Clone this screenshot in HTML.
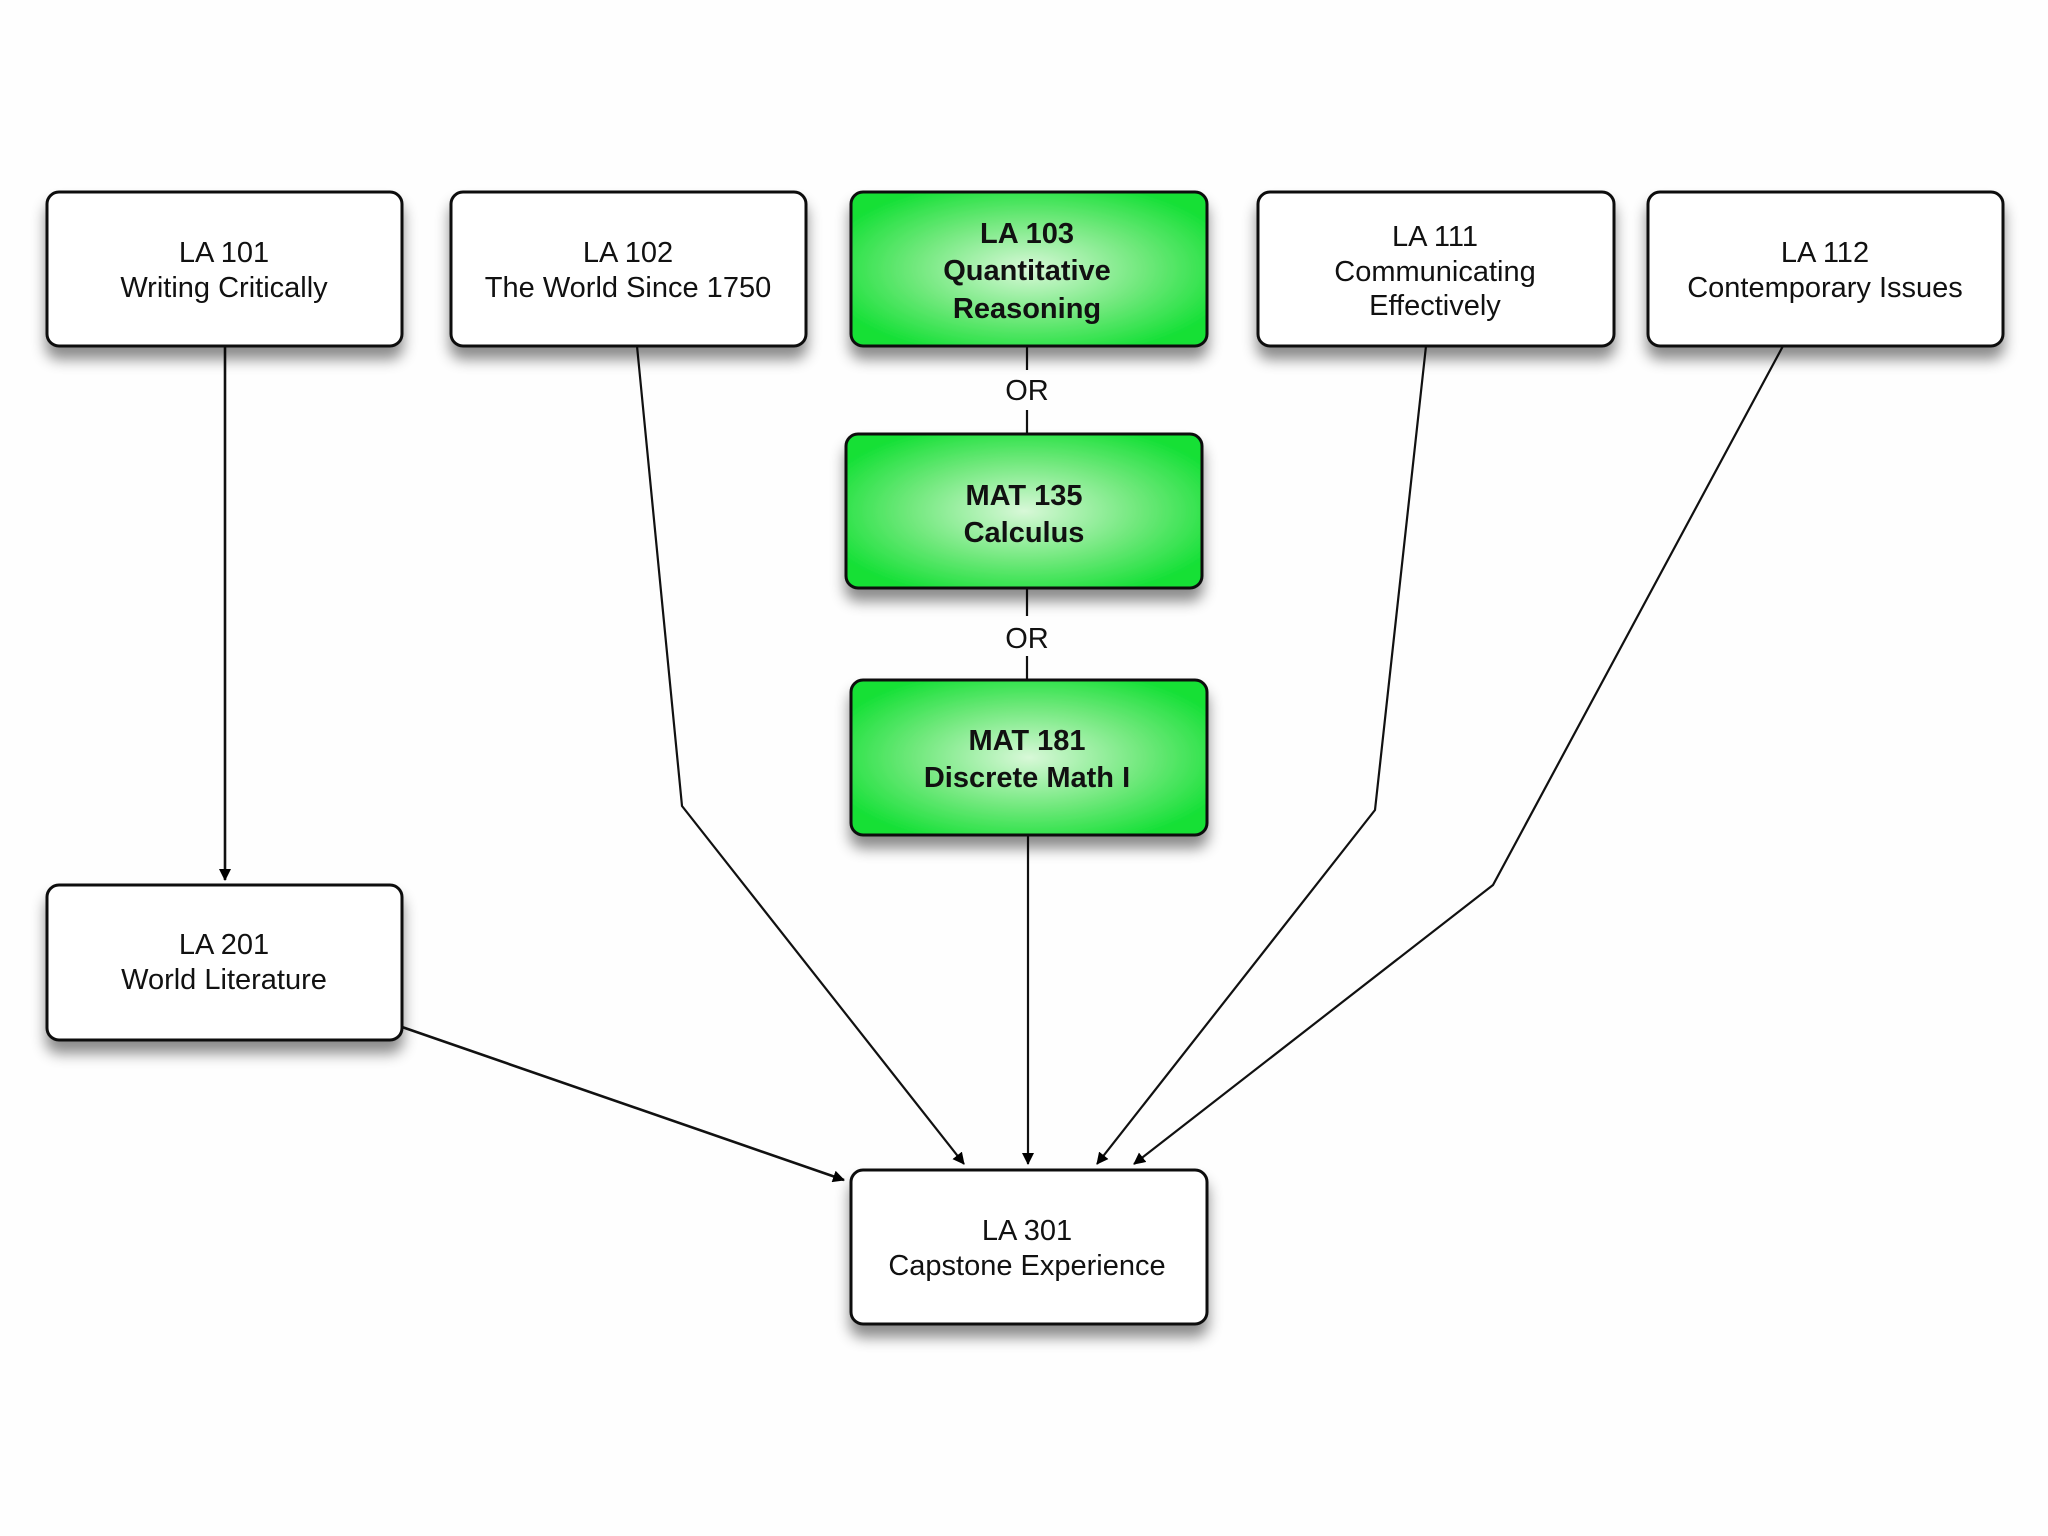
<!DOCTYPE html>
<html><head><meta charset="utf-8"><style>
html,body{margin:0;padding:0;background:#fefefe;}
svg{display:block}
text{font-family:"Liberation Sans",sans-serif;font-size:29px;fill:#111;text-anchor:middle}
.b{font-weight:bold}
</style></head><body>
<svg width="2048" height="1536" viewBox="0 0 2048 1536" xmlns="http://www.w3.org/2000/svg">
<defs>
<radialGradient id="g" cx="50%" cy="50%" r="60%">
<stop offset="0" stop-color="#d8f8d8"/><stop offset="0.55" stop-color="#6ee87a"/><stop offset="1" stop-color="#12e034"/>
</radialGradient>
<filter id="s" x="-10%" y="-10%" width="130%" height="150%"><feDropShadow dx="0" dy="12" stdDeviation="7" flood-color="#000" flood-opacity="0.45"/></filter>
<marker id="a" markerWidth="12" markerHeight="12" refX="11" refY="6" orient="auto" markerUnits="userSpaceOnUse" viewBox="0 0 12 12"><path d="M0,0 L12,6 L0,12 z" fill="#000"/></marker>
</defs>
<rect width="2048" height="1536" fill="#fefefe"/>
<g fill="none" stroke="#111" stroke-width="2.2">
<path d="M225,346 V880" marker-end="url(#a)" stroke-width="2.6"/>
<path d="M637,346 L682,806 L964,1164" marker-end="url(#a)"/>
<path d="M1028,835 V1164" marker-end="url(#a)"/>
<path d="M1426,346 L1375,810 L1097,1164" marker-end="url(#a)"/>
<path d="M1783,346 L1493,885 L1134,1164" marker-end="url(#a)"/>
<path d="M402,1027 L844,1180" marker-end="url(#a)" stroke-width="2.6"/>
<path d="M1027,346 V370 M1027,410 V434 M1027,588 V616 M1027,656 V680"/>
</g>
<text x="1027" y="400">OR</text>
<text x="1027" y="648">OR</text>
<g stroke="#111" stroke-width="3" filter="url(#s)">
<rect x="47" y="192" width="355" height="154" rx="12" fill="#fff"/>
<rect x="451" y="192" width="355" height="154" rx="12" fill="#fff"/>
<rect x="851" y="192" width="356" height="154" rx="12" fill="url(#g)"/>
<rect x="1258" y="192" width="356" height="154" rx="12" fill="#fff"/>
<rect x="1648" y="192" width="355" height="154" rx="12" fill="#fff"/>
<rect x="846" y="434" width="356" height="154" rx="12" fill="url(#g)"/>
<rect x="851" y="680" width="356" height="155" rx="12" fill="url(#g)"/>
<rect x="47" y="885" width="355" height="155" rx="12" fill="#fff"/>
<rect x="851" y="1170" width="356" height="154" rx="12" fill="#fff"/>
</g>
<text x="224" y="262">LA 101</text><text x="224" y="297">Writing Critically</text>
<text x="628" y="262">LA 102</text><text x="628" y="297">The World Since 1750</text>
<text class="b" x="1027" y="243">LA 103</text><text class="b" x="1027" y="280">Quantitative</text><text class="b" x="1027" y="318">Reasoning</text>
<text x="1435" y="246">LA 111</text><text x="1435" y="281">Communicating</text><text x="1435" y="315">Effectively</text>
<text x="1825" y="262">LA 112</text><text x="1825" y="297">Contemporary Issues</text>
<text class="b" x="1024" y="505">MAT 135</text><text class="b" x="1024" y="542">Calculus</text>
<text class="b" x="1027" y="750">MAT 181</text><text class="b" x="1027" y="787">Discrete Math I</text>
<text x="224" y="954">LA 201</text><text x="224" y="989">World Literature</text>
<text x="1027" y="1240">LA 301</text><text x="1027" y="1275">Capstone Experience</text>
</svg>
</body></html>
